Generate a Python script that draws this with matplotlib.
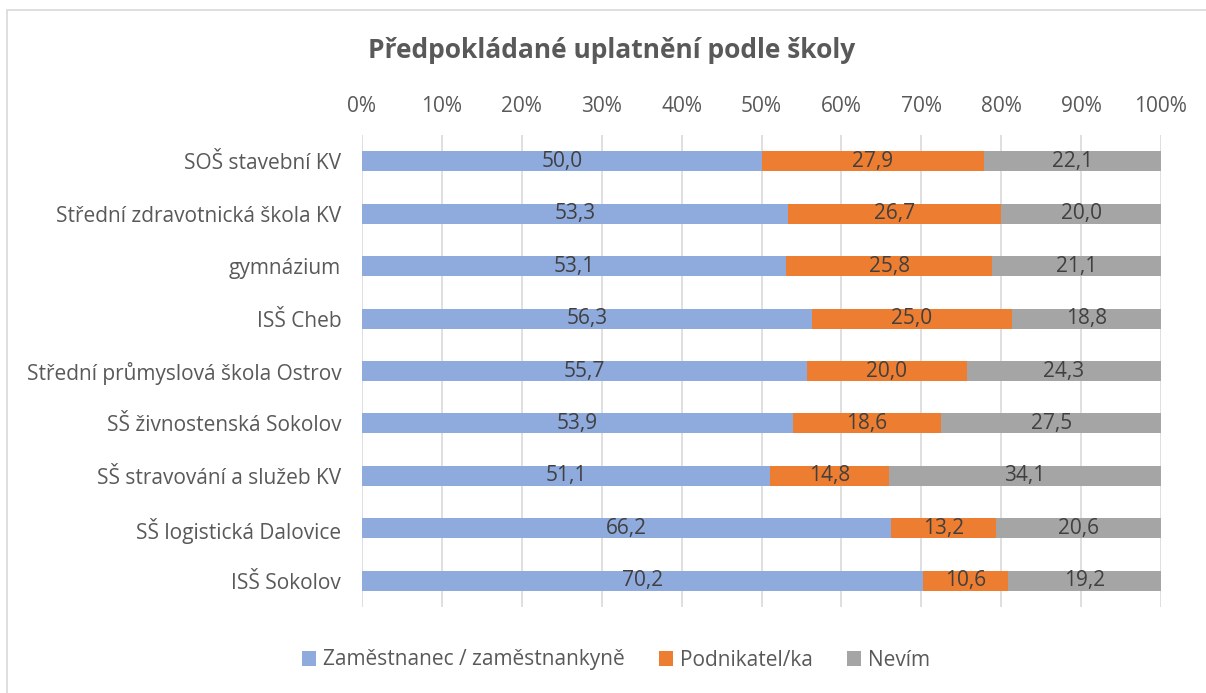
import matplotlib
matplotlib.use("Agg")
import matplotlib.pyplot as plt
from matplotlib.patches import Rectangle
import numpy as np

plt.rcParams['font.family'] = ['Open Sans', 'DejaVu Sans']

categories = ["SOŠ stavební KV", "Střední zdravotnická škola KV", "gymnázium", "ISŠ Cheb",
              "Střední průmyslová škola Ostrov", "SŠ živnostenská Sokolov",
              "SŠ stravování a služeb KV", "SŠ logistická Dalovice", "ISŠ Sokolov"]
zamestnanec = [50.0, 53.3, 53.1, 56.3, 55.7, 53.9, 51.1, 66.2, 70.2]
podnikatel = [27.9, 26.7, 25.8, 25.0, 20.0, 18.6, 14.8, 13.2, 10.6]
nevim = [22.1, 20.0, 21.1, 18.8, 24.3, 27.5, 34.1, 20.6, 19.2]
series_names = ["Zaměstnanec / zaměstnankyně", "Podnikatel/ka", "Nevím"]
colors = ["#8FAADC", "#ED7D31", "#A5A5A5"]
xticks = [0, 10, 20, 30, 40, 50, 60, 70, 80, 90, 100]

fig = plt.figure(figsize=(12.06, 6.93), dpi=100)
ax = fig.add_axes([362/1206, 1-607/693, (1161-362)/1206, (607-135)/693])

y = np.arange(len(categories))
series = [zamestnanec, podnikatel, nevim]
left = np.zeros(len(categories))
handles = []
for vals, name, c in zip(series, series_names, colors):
    vals = np.array(vals)
    b = ax.barh(y, vals, left=left, height=0.38, color=c, label=name, zorder=3)
    handles.append(b)
    for yi, l, v in zip(y, left, vals):
        ax.text(l + v/2, yi, f"{v:.1f}".replace(".", ","), ha="center", va="center",
                fontsize=15, color="#404040", zorder=4)
    left += vals

ax.set_xlim(0, 100)
ax.set_ylim(len(categories) - 0.5, -0.5)
ax.set_yticks(y)
ax.set_yticklabels(categories, fontsize=15, color="#595959")
ax.set_xticks(xticks)
ax.set_xticklabels([f"{t}%" for t in xticks], fontsize=15, color="#595959")
ax.xaxis.tick_top()
ax.tick_params(axis="both", length=0)
ax.tick_params(axis="x", pad=13)
ax.tick_params(axis="y", pad=15)
ax.grid(axis="x", color="#D9D9D9", linewidth=1.2, zorder=0)
for s in ax.spines.values():
    s.set_visible(False)

fig.text(612/1206, 1-50/693, "Předpokládané uplatnění podle školy", ha="center", va="center",
         fontsize=19, fontweight="bold", color="#595959")

fig.legend(handles=handles, labels=series_names, loc="center", bbox_to_anchor=(616/1206, 1-660/693),
           ncol=3, frameon=False, fontsize=15, labelcolor="#595959",
           handlelength=0.7, handleheight=0.7, handletextpad=0.35, columnspacing=1.6)

fig.patches.append(Rectangle((7/1206, -0.05), 1.1, 1.05 - 9.5/693, transform=fig.transFigure,
                             fill=False, edgecolor="#D9D9D9", linewidth=1.2))

fig.savefig("out.png", dpi=100)
